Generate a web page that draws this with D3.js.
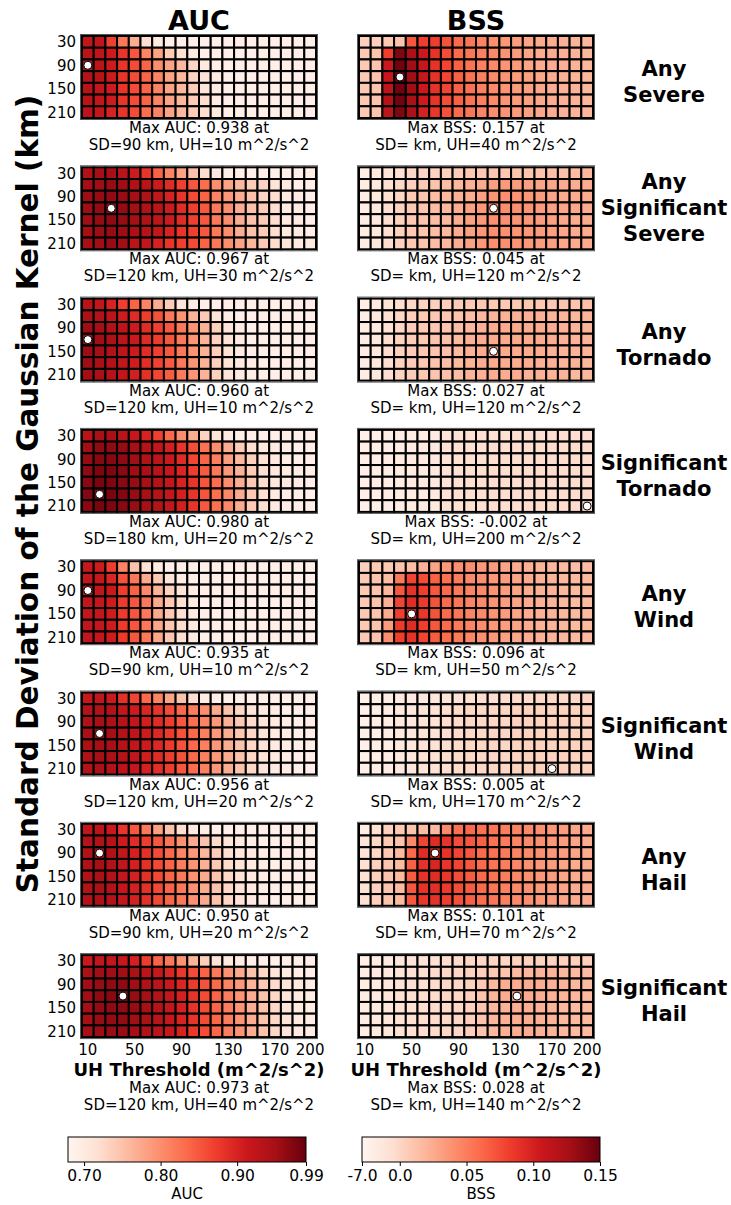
<!DOCTYPE html>
<html><head><meta charset="utf-8">
<script src="https://cdn.jsdelivr.net/npm/d3@7"></script>
<style>body{margin:0;background:#fff;} svg text{font-family:"DejaVu Sans",sans-serif;fill:#000;}</style>
</head><body><svg id="chart" width="731" height="1205"></svg>
<script>
// ---------- axes / labels ----------
const sdValues = [30,60,90,120,150,180,210];
const uhValues = [10,20,30,40,50,60,70,80,90,100,110,120,130,140,150,160,170,180,190,200];
const sdTickLabels = [30,90,150,210];
const uhTickLabels = [10,50,90,130,170,200];
const hazardLabels = [["Any","Severe"],["Any","Significant","Severe"],["Any","Tornado"],["Significant","Tornado"],["Any","Wind"],["Significant","Wind"],["Any","Hail"],["Significant","Hail"]];
const aucTicks = [0.70,0.80,0.90,0.99];
const aucTickLabels = ["0.70","0.80","0.90","0.99"];
const bssTicks = [-0.0283,0,0.05,0.10,0.15];
const bssTickLabels = ["-7.0","0.0","0.05","0.10","0.15"];

// ---------- max summaries ----------
const aucMaxVal = ["0.938","0.967","0.960","0.980","0.935","0.956","0.950","0.973"];
const aucMaxSD  = [90,120,120,180,90,120,90,120];
const aucMaxUH  = [10,30,10,20,10,20,20,40];
const bssMaxVal = ["0.157","0.045","0.027","-0.002","0.096","0.005","0.101","0.028"];
const bssMaxSD  = [120,120,150,210,150,210,90,120];
const bssMaxUH  = [40,120,120,200,50,170,70,140];

// ---------- AUC grids (rows = SD 30..210, cols = UH 10..200) ----------
const aucAnySevere = [
[.92,.92,.87,.82,.77,.72,.70,.69,.69,.69,.69,.69,.69,.69,.69,.69,.69,.69,.69,.69],
[.93,.925,.91,.88,.85,.81,.78,.74,.715,.70,.69,.69,.69,.69,.69,.69,.69,.69,.69,.69],
[.938,.93,.91,.88,.86,.84,.80,.78,.76,.73,.70,.69,.69,.69,.69,.69,.69,.69,.69,.69],
[.935,.93,.91,.88,.86,.84,.81,.78,.76,.73,.71,.70,.69,.69,.69,.69,.69,.69,.69,.69],
[.933,.92,.91,.88,.86,.84,.81,.78,.76,.74,.71,.70,.69,.69,.69,.69,.69,.69,.69,.69],
[.93,.92,.91,.88,.86,.84,.81,.78,.76,.74,.72,.70,.69,.69,.69,.69,.69,.69,.69,.69],
[.928,.92,.90,.88,.86,.83,.81,.78,.76,.74,.72,.70,.69,.69,.69,.69,.69,.69,.69,.69]];
const aucAnySigSevere = [
[.94,.95,.95,.93,.91,.88,.84,.81,.78,.75,.72,.70,.69,.69,.69,.69,.69,.69,.69,.69],
[.95,.955,.96,.955,.94,.93,.91,.89,.87,.85,.83,.80,.78,.76,.74,.73,.71,.70,.69,.69],
[.955,.96,.963,.96,.95,.94,.92,.90,.88,.86,.84,.81,.79,.77,.75,.73,.72,.70,.70,.69],
[.955,.962,.967,.962,.95,.94,.93,.91,.89,.87,.85,.82,.80,.77,.75,.74,.72,.70,.70,.69],
[.953,.96,.965,.96,.95,.94,.925,.91,.89,.87,.85,.82,.80,.77,.75,.74,.72,.70,.70,.69],
[.95,.957,.96,.957,.945,.935,.92,.90,.88,.87,.85,.82,.80,.77,.75,.74,.72,.70,.70,.69],
[.947,.953,.96,.953,.93,.92,.90,.88,.87,.86,.84,.82,.80,.78,.76,.74,.72,.71,.70,.70]];
const aucAnyTornado = [
[.93,.92,.90,.87,.84,.81,.77,.74,.71,.70,.69,.69,.69,.69,.69,.69,.69,.69,.69,.69],
[.944,.937,.928,.909,.891,.872,.854,.82,.795,.764,.742,.711,.696,.69,.69,.69,.69,.69,.69,.69],
[.955,.95,.94,.925,.91,.89,.87,.85,.82,.795,.765,.735,.71,.70,.69,.69,.69,.69,.69,.69],
[.96,.953,.944,.928,.913,.891,.872,.851,.82,.795,.764,.733,.711,.70,.69,.69,.69,.69,.69,.69],
[.957,.95,.94,.925,.91,.89,.87,.85,.82,.795,.765,.735,.712,.70,.695,.69,.69,.69,.69,.69],
[.955,.948,.938,.922,.908,.888,.868,.848,.82,.795,.765,.735,.712,.70,.695,.69,.69,.69,.69,.69],
[.952,.945,.935,.92,.905,.885,.865,.845,.818,.793,.765,.735,.712,.70,.695,.69,.69,.69,.69,.69]];
const aucSigTornado = [
[.93,.945,.945,.93,.915,.90,.87,.835,.80,.77,.73,.71,.70,.69,.69,.69,.69,.69,.69,.69],
[.953,.965,.965,.96,.947,.935,.92,.905,.88,.857,.826,.80,.77,.74,.72,.705,.70,.695,.69,.69],
[.96,.97,.97,.965,.953,.94,.928,.913,.89,.865,.84,.815,.785,.76,.735,.715,.70,.695,.69,.69],
[.965,.975,.975,.968,.955,.945,.93,.915,.897,.872,.848,.82,.79,.765,.74,.717,.705,.70,.695,.69],
[.968,.978,.975,.968,.959,.947,.934,.919,.90,.88,.852,.83,.80,.77,.742,.72,.705,.70,.695,.69],
[.971,.98,.978,.971,.959,.947,.934,.919,.905,.88,.852,.83,.805,.773,.742,.717,.70,.695,.69,.69],
[.968,.978,.975,.968,.959,.947,.934,.919,.905,.88,.85,.83,.805,.773,.742,.717,.70,.695,.69,.69]];
const aucAnyWind = [
[.915,.909,.872,.81,.748,.711,.696,.69,.69,.69,.69,.69,.69,.69,.69,.69,.69,.69,.69,.69],
[.922,.916,.897,.854,.82,.773,.742,.711,.696,.69,.69,.69,.69,.69,.69,.69,.69,.69,.69,.69],
[.935,.922,.913,.872,.841,.804,.764,.733,.711,.696,.69,.69,.69,.69,.69,.69,.69,.69,.69,.69],
[.922,.919,.909,.875,.851,.82,.773,.742,.717,.699,.69,.69,.69,.69,.69,.69,.69,.69,.69,.69],
[.922,.919,.909,.875,.851,.82,.773,.742,.717,.699,.69,.69,.69,.69,.69,.69,.69,.69,.69,.69],
[.922,.919,.909,.875,.851,.82,.776,.745,.72,.70,.69,.69,.69,.69,.69,.69,.69,.69,.69,.69],
[.922,.919,.909,.875,.851,.82,.776,.745,.72,.70,.69,.69,.69,.69,.69,.69,.69,.69,.69,.69]];
const aucSigWind = [
[.916,.922,.913,.885,.866,.835,.81,.779,.748,.72,.696,.69,.69,.69,.69,.69,.69,.69,.69,.69],
[.934,.94,.937,.922,.91,.897,.88,.86,.835,.816,.80,.773,.748,.727,.71,.70,.695,.69,.69,.69],
[.94,.947,.944,.934,.922,.906,.89,.872,.85,.83,.81,.79,.767,.742,.723,.708,.70,.695,.69,.69],
[.947,.956,.95,.937,.925,.91,.894,.875,.854,.835,.813,.79,.77,.745,.727,.71,.70,.695,.69,.69],
[.944,.95,.947,.934,.922,.91,.894,.875,.854,.835,.813,.79,.77,.748,.727,.71,.70,.695,.69,.69],
[.94,.947,.944,.934,.922,.906,.89,.872,.854,.835,.813,.79,.77,.748,.727,.71,.70,.695,.69,.69],
[.937,.944,.94,.928,.919,.903,.888,.872,.85,.832,.813,.79,.77,.748,.727,.71,.70,.695,.69,.69]];
const aucAnyHail = [
[.922,.928,.913,.88,.85,.82,.782,.748,.72,.70,.695,.69,.69,.69,.69,.69,.69,.69,.69,.69],
[.934,.94,.934,.91,.89,.872,.85,.823,.798,.773,.748,.723,.708,.70,.695,.69,.69,.69,.69,.69],
[.94,.95,.94,.922,.903,.885,.86,.835,.81,.79,.76,.736,.717,.705,.70,.695,.69,.69,.69,.69],
[.94,.947,.94,.922,.903,.885,.863,.84,.816,.795,.767,.742,.723,.708,.70,.695,.69,.69,.69,.69],
[.937,.944,.937,.919,.903,.885,.863,.84,.82,.798,.773,.748,.727,.71,.70,.695,.69,.69,.69,.69],
[.937,.944,.937,.919,.903,.885,.863,.84,.82,.798,.773,.748,.727,.71,.70,.695,.69,.69,.69,.69],
[.937,.944,.937,.919,.903,.885,.863,.84,.82,.798,.773,.748,.727,.71,.70,.695,.69,.69,.69,.69]];
const aucSigHail = [
[.913,.922,.922,.916,.903,.872,.84,.82,.795,.764,.736,.71,.70,.695,.69,.69,.69,.69,.69,.69],
[.944,.953,.953,.953,.944,.928,.916,.897,.878,.86,.84,.82,.795,.773,.748,.727,.71,.70,.695,.69],
[.953,.959,.965,.965,.953,.94,.928,.913,.897,.875,.854,.835,.81,.79,.764,.742,.723,.708,.70,.695],
[.953,.965,.968,.973,.959,.947,.934,.919,.903,.882,.86,.84,.816,.795,.77,.748,.727,.71,.70,.695],
[.95,.962,.965,.965,.959,.947,.934,.919,.903,.882,.86,.84,.816,.795,.77,.748,.727,.71,.70,.695],
[.947,.959,.962,.962,.953,.944,.931,.916,.90,.882,.86,.838,.816,.795,.77,.748,.727,.71,.70,.695],
[.947,.956,.959,.959,.95,.94,.928,.916,.90,.878,.86,.838,.816,.795,.77,.748,.727,.71,.70,.695]];

// ---------- BSS grids ----------
const bssAnySevere = [
[.004,.004,.008,.011,.070,.082,.082,.072,.061,.054,.047,.040,.036,.033,.029,.025,.024,.022,.020,.018],
[.008,.011,.082,.141,.123,.106,.089,.075,.061,.054,.049,.043,.038,.033,.029,.025,.024,.022,.020,.018],
[.008,.011,.106,.146,.129,.107,.089,.079,.065,.056,.049,.043,.038,.034,.029,.025,.024,.022,.020,.018],
[.008,.011,.107,.157,.129,.107,.089,.079,.065,.056,.049,.043,.038,.034,.031,.027,.024,.022,.020,.018],
[.008,.011,.114,.146,.129,.106,.089,.079,.065,.056,.049,.043,.038,.034,.031,.027,.024,.022,.020,.018],
[.008,.011,.118,.145,.125,.104,.088,.075,.065,.056,.049,.043,.038,.034,.031,.027,.024,.022,.020,.018],
[.008,.011,.114,.141,.123,.100,.086,.073,.061,.054,.047,.041,.038,.034,.031,.027,.024,.022,.020,.018]];
const bssAnySigSevere = [
[-.019,-.017,-.010,-.007,-.001,.000,.002,.004,.006,.008,.008,.009,.009,.011,.011,.011,.013,.013,.015,.018],
[-.019,-.016,-.007,-.001,.004,.008,.011,.015,.018,.022,.025,.031,.034,.033,.031,.029,.027,.025,.024,.025],
[-.019,-.016,-.007,.000,.008,.011,.015,.018,.022,.025,.031,.038,.040,.038,.036,.033,.029,.025,.025,.025],
[-.019,-.014,-.005,.002,.008,.011,.015,.018,.024,.031,.036,.045,.041,.040,.038,.034,.031,.029,.027,.025],
[-.019,-.014,-.005,.002,.008,.011,.015,.018,.024,.031,.036,.040,.040,.038,.036,.033,.031,.027,.025,.025],
[-.019,-.014,-.005,.002,.008,.011,.015,.018,.024,.031,.036,.040,.040,.038,.036,.033,.031,.027,.025,.025],
[-.019,-.014,-.005,.002,.008,.011,.015,.018,.024,.031,.036,.040,.040,.038,.036,.033,.031,.027,.025,.025]];
const bssAnyTornado = [
[-.019,-.017,-.010,-.005,-.001,.002,.004,.004,.006,.008,.008,.008,.008,.008,.009,.009,.009,.011,.011,.013],
[-.019,-.016,-.007,-.001,.004,.008,.008,.009,.011,.015,.018,.020,.022,.022,.022,.022,.020,.020,.018,.020],
[-.019,-.016,-.007,.000,.006,.008,.009,.011,.015,.018,.022,.025,.026,.026,.025,.025,.024,.022,.020,.020],
[-.019,-.014,-.005,.002,.006,.008,.011,.013,.017,.022,.025,.026,.026,.026,.025,.025,.024,.022,.020,.020],
[-.019,-.014,-.005,.002,.006,.009,.011,.013,.017,.022,.025,.027,.026,.025,.025,.024,.022,.020,.020,.020],
[-.019,-.014,-.005,.002,.006,.009,.011,.013,.017,.020,.024,.025,.025,.024,.024,.022,.022,.020,.020,.018],
[-.019,-.014,-.005,.002,.006,.008,.011,.013,.015,.020,.022,.024,.024,.024,.022,.022,.020,.020,.018,.018]];
const bssSigTornado = [
[-.023,-.022,-.021,-.020,-.019,-.018,-.017,-.009,-.008,-.008,-.007,-.007,-.007,-.006,-.006,-.006,-.006,-.005,-.005,-.005],
[-.022,-.021,-.020,-.019,-.018,-.017,-.016,-.008,-.007,-.006,-.006,-.005,-.005,-.005,-.004,-.004,-.004,-.004,-.004,-.004],
[-.022,-.021,-.020,-.019,-.018,-.017,-.016,-.008,-.007,-.006,-.006,-.005,-.005,-.005,-.004,-.004,-.004,-.004,-.004,-.004],
[-.022,-.021,-.020,-.019,-.018,-.017,-.016,-.008,-.007,-.006,-.006,-.005,-.005,-.005,-.004,-.004,-.004,-.004,-.004,-.004],
[-.022,-.021,-.020,-.019,-.018,-.017,-.016,-.008,-.007,-.006,-.006,-.005,-.005,-.005,-.004,-.004,-.004,-.004,-.004,-.004],
[-.022,-.021,-.020,-.019,-.018,-.017,-.016,-.008,-.007,-.006,-.006,-.005,-.005,-.005,-.004,-.004,-.004,-.004,-.004,-.004],
[-.022,-.021,-.020,-.019,-.018,-.017,-.016,-.008,-.007,-.006,-.006,-.005,-.005,-.005,-.004,-.004,-.004,-.004,-.003,-.002]];
const bssAnyWind = [
[.004,.008,.008,.011,.015,.022,.029,.036,.040,.040,.036,.033,.029,.025,.022,.020,.018,.017,.015,.015],
[.008,.011,.015,.052,.079,.075,.065,.057,.050,.043,.040,.036,.033,.029,.025,.022,.020,.018,.017,.017],
[.008,.011,.018,.070,.089,.082,.070,.061,.052,.047,.043,.038,.033,.029,.025,.022,.020,.018,.017,.017],
[.008,.011,.022,.079,.093,.084,.072,.061,.054,.047,.043,.038,.033,.029,.025,.022,.020,.018,.017,.017],
[.008,.011,.025,.082,.096,.086,.072,.061,.054,.047,.043,.038,.033,.029,.025,.022,.020,.018,.017,.017],
[.008,.011,.034,.084,.093,.082,.070,.061,.052,.047,.041,.036,.033,.029,.025,.022,.020,.018,.017,.017],
[.008,.011,.040,.082,.089,.079,.068,.059,.052,.045,.040,.036,.031,.027,.024,.022,.020,.018,.017,.017]];
const bssSigWind = [
[-.023,-.021,-.019,-.017,-.017,-.016,-.014,-.010,-.008,-.007,-.005,-.005,-.003,-.003,-.003,-.001,-.001,-.001,-.001,.000],
[-.023,-.021,-.019,-.016,-.014,-.010,-.008,-.005,-.003,-.001,-.001,.000,.000,.002,.002,.002,.002,.002,.002,.002],
[-.023,-.021,-.019,-.016,-.014,-.010,-.008,-.005,-.003,-.001,-.001,.000,.000,.002,.002,.002,.002,.002,.002,.002],
[-.023,-.021,-.019,-.016,-.014,-.010,-.008,-.005,-.003,-.001,-.001,.000,.000,.002,.002,.002,.002,.002,.002,.002],
[-.023,-.021,-.019,-.016,-.014,-.010,-.008,-.005,-.003,-.001,-.001,.000,.000,.002,.002,.002,.002,.002,.002,.002],
[-.023,-.021,-.019,-.016,-.014,-.010,-.008,-.005,-.003,-.001,-.001,.000,.000,.002,.002,.002,.002,.002,.002,.002],
[-.023,-.021,-.019,-.016,-.014,-.010,-.008,-.005,-.003,-.001,-.001,.000,.000,.002,.002,.003,.005,.003,.002,.002]];
const bssAnyHail = [
[-.019,-.007,.004,.008,.011,.015,.017,.043,.057,.061,.057,.054,.050,.047,.043,.040,.036,.033,.029,.025],
[-.010,-.001,.008,.011,.043,.079,.093,.088,.075,.070,.065,.057,.052,.047,.043,.040,.036,.033,.029,.025],
[-.010,.000,.008,.017,.061,.093,.101,.089,.079,.070,.061,.057,.052,.047,.043,.040,.036,.033,.029,.025],
[-.007,.004,.011,.017,.065,.089,.097,.088,.079,.070,.061,.056,.050,.045,.040,.036,.033,.029,.025,.024],
[-.007,.004,.011,.017,.068,.089,.093,.086,.075,.068,.061,.056,.050,.045,.040,.036,.033,.029,.025,.024],
[-.007,.004,.011,.017,.070,.089,.091,.084,.075,.068,.061,.054,.049,.043,.040,.036,.033,.029,.025,.024],
[-.007,.004,.011,.017,.070,.086,.089,.082,.073,.066,.059,.054,.049,.043,.040,.036,.033,.029,.025,.024]];
const bssSigHail = [
[-.021,-.019,-.017,-.014,-.010,-.008,-.007,-.005,-.003,-.001,-.001,.000,.000,.002,.002,.002,.002,.004,.004,.004],
[-.019,-.017,-.014,-.010,-.007,-.005,-.003,-.001,.000,.002,.004,.008,.011,.017,.018,.020,.020,.018,.017,.015],
[-.019,-.017,-.014,-.010,-.007,-.005,-.003,-.001,.000,.002,.008,.017,.024,.025,.025,.024,.022,.020,.018,.017],
[-.019,-.017,-.012,-.008,-.007,-.005,-.003,-.001,.000,.004,.011,.020,.025,.028,.025,.024,.022,.020,.018,.017],
[-.019,-.016,-.012,-.008,-.007,-.005,-.003,-.001,.000,.004,.011,.018,.022,.024,.024,.022,.020,.018,.017,.017],
[-.019,-.016,-.012,-.008,-.007,-.005,-.003,-.001,.000,.004,.011,.018,.022,.024,.024,.022,.020,.018,.017,.017],
[-.019,-.016,-.012,-.008,-.007,-.005,-.003,-.001,.000,.004,.011,.018,.022,.024,.024,.022,.020,.018,.017,.017]];

const aucGrids = [aucAnySevere,aucAnySigSevere,aucAnyTornado,aucSigTornado,aucAnyWind,aucSigWind,aucAnyHail,aucSigHail];
const bssGrids = [bssAnySevere,bssAnySigSevere,bssAnyTornado,bssSigTornado,bssAnyWind,bssSigWind,bssAnyHail,bssSigHail];

// ---------- drawing ----------
const reds = ["#fff5f0","#fee0d2","#fcbba1","#fc9272","#fb6a4a","#ef3b2c","#cb181d","#a50f15","#67000d"];
function cmap(lo, hi){
  return d3.scaleLinear().domain(d3.range(9).map(i => lo + (hi-lo)*i/8)).range(reds).interpolate(d3.interpolateRgb).clamp(true);
}
const aucDomain = [0.679, 0.99], bssDomain = [-0.0283, 0.15];
const aucColor = cmap(...aucDomain), bssColor = cmap(...bssDomain);

const svg = d3.select("#chart");
const W = 234, H = 82;
const colX = [82, 359];
const rowTop0 = 36, rowStep = 131.3;
const x = d3.scaleBand().domain(uhValues).range([0, W]);
const y = d3.scaleBand().domain(sdValues).range([0, H]);
const bw = x.bandwidth(), bh = y.bandwidth();

svg.append("text").attr("x", colX[0]+W/2).attr("y", 30).attr("text-anchor","middle")
  .attr("font-size",27).attr("font-weight","bold").text("AUC");
svg.append("text").attr("x", colX[1]+W/2).attr("y", 30).attr("text-anchor","middle")
  .attr("font-size",27).attr("font-weight","bold").text("BSS");

svg.append("text").attr("transform","translate(28,494) rotate(-90)").attr("text-anchor","middle")
  .attr("dy","0.35em").attr("font-size",29.5).attr("font-weight","bold")
  .text("Standard Deviation of the Gaussian Kernel (km)");

for (let i = 0; i < 8; i++) {
  const top = rowTop0 + i*rowStep;
  const last = i === 7;
  [0,1].forEach(m => {
    const grid = m === 0 ? aucGrids[i] : bssGrids[i];
    const color = m === 0 ? aucColor : bssColor;
    const g = svg.append("g").attr("transform", `translate(${colX[m]},${top})`);
    const cells = [];
    grid.forEach((row, r) => row.forEach((v, c) => cells.push({sd: sdValues[r], uh: uhValues[c], v})));
    g.selectAll("rect.cell").data(cells).join("rect").attr("class","cell")
      .attr("x", d => x(d.uh)).attr("y", d => y(d.sd))
      .attr("width", bw).attr("height", bh)
      .attr("fill", d => color(d.v)).attr("stroke","#000").attr("stroke-width",2);
    g.append("rect").attr("x",-1.5).attr("y",-1.5).attr("width",W+3).attr("height",H+3)
      .attr("fill","none").attr("stroke","#555").attr("stroke-width",1);
    const mSD = m === 0 ? aucMaxSD[i] : bssMaxSD[i];
    const mUH = m === 0 ? aucMaxUH[i] : bssMaxUH[i];
    g.append("circle").attr("cx", x(mUH)+bw/2).attr("cy", y(mSD)+bh/2).attr("r",4)
      .attr("fill","#fff").attr("stroke","#000").attr("stroke-width",1);
    if (m === 0) {
      g.selectAll("text.yt").data(sdTickLabels).join("text").attr("class","yt")
        .attr("x",-6).attr("y", d => y(d)+bh/2).attr("dy","0.36em").attr("text-anchor","end")
        .attr("font-size",15).text(d => d);
    }
    let capY = H + 15;
    if (last) {
      g.selectAll("text.xt").data(uhTickLabels).join("text").attr("class","xt")
        .attr("x", d => x(d)+bw/2).attr("y", H+18).attr("text-anchor","middle")
        .attr("font-size",15).text(d => d);
      g.append("text").attr("x", W/2).attr("y", H+39).attr("text-anchor","middle")
        .attr("font-size",18).attr("font-weight","bold").text("UH Threshold (m^2/s^2)");
      capY = H + 56;
    }
    const metric = m === 0 ? "AUC" : "BSS";
    const val = m === 0 ? aucMaxVal[i] : bssMaxVal[i];
    const sdTxt = m === 0 ? `SD=${aucMaxSD[i]} km` : "SD= km";
    g.append("text").attr("x", W/2).attr("y", capY).attr("text-anchor","middle").attr("font-size",15)
      .text(`Max ${metric}: ${val} at`);
    g.append("text").attr("x", W/2).attr("y", capY+17).attr("text-anchor","middle").attr("font-size",15)
      .text(`${sdTxt}, UH=${mUH} m^2/s^2`);
  });
  // hazard label
  const c = top + H/2;
  const lines = hazardLabels[i];
  const first = lines.length === 3 ? c - 19 : c - 1;
  lines.forEach((t, k) => {
    svg.append("text").attr("x", 664).attr("y", first + k*26).attr("text-anchor","middle")
      .attr("font-size",21).attr("font-weight","bold").text(t);
  });
}

// ---------- colorbars ----------
function colorbar(x0, x1, domain, ticks, labels, name, id) {
  const y0 = 1137, h = 25;
  const defs = svg.append("defs");
  const lg = defs.append("linearGradient").attr("id", id).attr("x1","0%").attr("x2","100%");
  reds.forEach((c, k) => lg.append("stop").attr("offset", (k/8*100)+"%").attr("stop-color", c));
  svg.append("rect").attr("x", x0).attr("y", y0).attr("width", x1-x0).attr("height", h)
    .attr("fill", `url(#${id})`).attr("stroke","#000").attr("stroke-width",1);
  const s = d3.scaleLinear().domain(domain).range([x0, x1]);
  const axis = d3.axisBottom(s).tickValues(ticks).tickFormat((d,k) => labels[k]).tickSize(4).tickPadding(4);
  const ga = svg.append("g").attr("transform", `translate(0,${y0+h})`).call(axis);
  ga.select(".domain").remove();
  ga.selectAll("text").attr("font-size",15.5).attr("font-family","DejaVu Sans").attr("fill","#000");
  ga.selectAll("line").attr("stroke","#000");
  svg.append("text").attr("x", (x0+x1)/2).attr("y", 1199).attr("text-anchor","middle")
    .attr("font-size",15).text(name);
}
colorbar(68, 306, aucDomain, aucTicks, aucTickLabels, "AUC", "gAUC");
colorbar(362, 600, bssDomain, bssTicks, bssTickLabels, "BSS", "gBSS");
</script>
</body></html>
